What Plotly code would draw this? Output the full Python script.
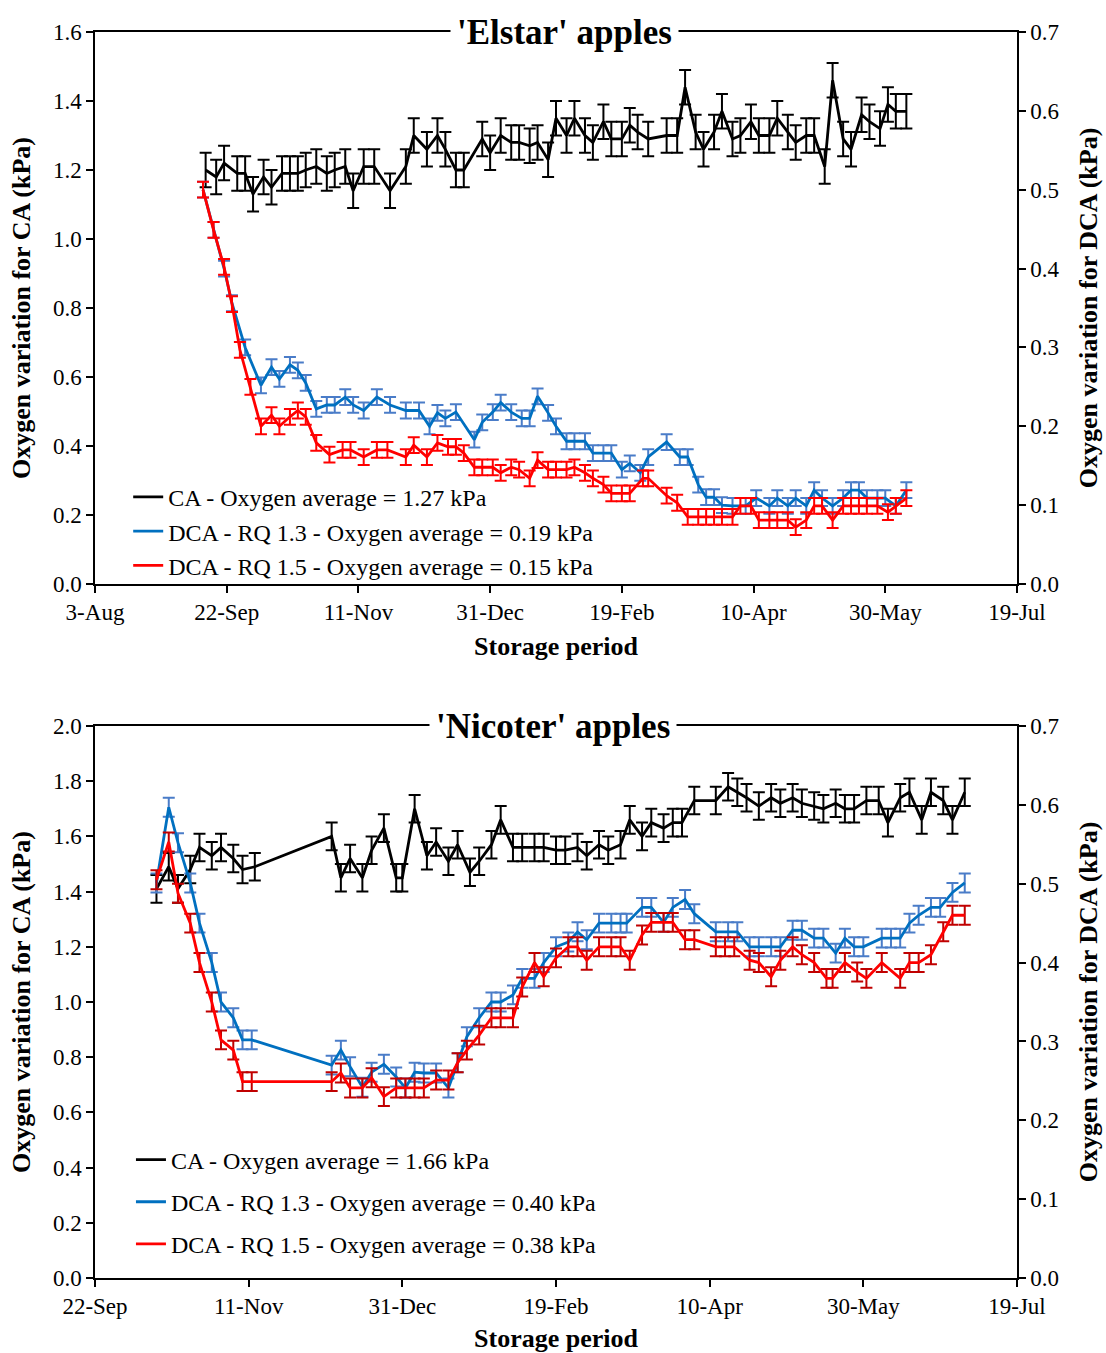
import pandas as pd
import plotly.graph_objects as go
from plotly.subplots import make_subplots

# ---------------- 'Elstar' apples (days counted from 3-Aug) ----------------
elstar_start = "2014-08-03"
elstar_ca_day = [42, 46, 49, 54, 57, 60, 64, 67, 71, 74,
                 77, 80, 84, 88, 91, 95, 98, 102, 106, 112,
                 118, 121, 126, 130, 133, 137, 140, 147, 150, 154,
                 158, 161, 165, 168, 172, 175, 179, 182, 186, 189,
                 193, 196, 200, 203, 206, 210, 217, 221, 224, 228,
                 231, 235, 238, 242, 245, 249, 252, 256, 259, 263,
                 266, 270, 273, 277, 280, 284, 287, 291, 294, 298,
                 301, 304, 308]
elstar_ca = [1.20, 1.18, 1.22, 1.19, 1.19, 1.13, 1.18, 1.15, 1.19, 1.19,
             1.19, 1.20, 1.21, 1.19, 1.20, 1.21, 1.14, 1.21, 1.21, 1.14,
             1.21, 1.30, 1.26, 1.30, 1.26, 1.20, 1.20, 1.29, 1.25, 1.30,
             1.28, 1.28, 1.27, 1.28, 1.23, 1.35, 1.30, 1.35, 1.30, 1.28,
             1.34, 1.29, 1.29, 1.33, 1.31, 1.29, 1.30, 1.30, 1.44, 1.31,
             1.26, 1.31, 1.37, 1.29, 1.30, 1.34, 1.30, 1.30, 1.35, 1.31,
             1.28, 1.30, 1.30, 1.21, 1.46, 1.29, 1.26, 1.36, 1.34, 1.32,
             1.39, 1.37, 1.37]
elstar_ca_err = 0.05

elstar_rq13_day = [41, 45, 49, 52, 57, 63, 67, 70, 74, 77,
                   80, 84, 88, 91, 95, 98, 102, 107, 112, 118,
                   123, 127, 130, 133, 137, 144, 147, 151, 154, 158,
                   162, 165, 168, 172, 175, 179, 182, 186, 189, 193,
                   196, 200, 203, 207, 210, 217, 222, 225, 229, 232,
                   235, 238, 242, 247, 251, 256, 259, 263, 266, 270,
                   273, 276, 280, 284, 287, 290, 293, 297, 300, 304, 308]
elstar_rq13 = [0.50, 0.449, 0.40, 0.356, 0.30, 0.252, 0.275, 0.26, 0.278, 0.271,
               0.255, 0.222, 0.227, 0.227, 0.237, 0.227, 0.22, 0.237, 0.227, 0.22,
               0.22, 0.20, 0.217, 0.21, 0.218, 0.183, 0.205, 0.218, 0.23, 0.218,
               0.21, 0.21, 0.238, 0.217, 0.20, 0.181, 0.181, 0.181, 0.166, 0.166,
               0.166, 0.145, 0.153, 0.141, 0.161, 0.18, 0.161, 0.161, 0.126, 0.11,
               0.11, 0.10, 0.099, 0.099, 0.109, 0.099, 0.109, 0.099, 0.109, 0.099,
               0.119, 0.109, 0.099, 0.109, 0.119, 0.119, 0.109, 0.109, 0.109, 0.099, 0.119]
elstar_rq13_err = 0.01

elstar_rq15_day = [41, 45, 49, 52, 55, 59, 63, 67, 70, 74,
                   77, 80, 84, 89, 94, 97, 102, 107, 111, 118,
                   121, 126, 130, 134, 137, 140, 144, 147, 151, 154,
                   158, 161, 165, 168, 172, 175, 179, 182, 186, 189,
                   193, 196, 200, 203, 208, 210, 217, 221, 225, 229,
                   232, 235, 238, 242, 245, 249, 252, 256, 259, 263,
                   266, 270, 273, 276, 280, 284, 287, 290, 293, 297,
                   301, 304, 308]
elstar_rq15 = [0.50, 0.449, 0.402, 0.355, 0.297, 0.25, 0.20, 0.214, 0.20, 0.212,
               0.22, 0.212, 0.179, 0.164, 0.170, 0.170, 0.161, 0.170, 0.170, 0.161,
               0.176, 0.161, 0.179, 0.174, 0.174, 0.166, 0.148, 0.148, 0.148, 0.141,
               0.148, 0.145, 0.134, 0.157, 0.145, 0.145, 0.145, 0.148, 0.141, 0.134,
               0.126, 0.115, 0.115, 0.115, 0.134, 0.134, 0.112, 0.103, 0.085, 0.085,
               0.085, 0.085, 0.085, 0.085, 0.099, 0.099, 0.081, 0.081, 0.081, 0.081,
               0.072, 0.081, 0.099, 0.099, 0.081, 0.099, 0.099, 0.099, 0.099, 0.099,
               0.091, 0.099, 0.109]
elstar_rq15_err = 0.01

# ---------------- 'Nicoter' apples (days counted from 22-Sep) ----------------
nicoter_start = "2014-09-22"
nicoter_ca_day = [20, 24, 27, 31, 34, 38, 41, 45, 48, 52,
                  77, 80, 83, 87, 90, 94, 98, 100, 104, 108,
                  111, 115, 118, 122, 125, 129, 132, 136, 139, 143,
                  146, 150, 153, 157, 160, 164, 167, 171, 174, 178,
                  181, 185, 188, 191, 195, 202, 206, 209, 212, 216,
                  220, 223, 227, 230, 234, 237, 241, 244, 247, 251,
                  255, 258, 262, 265, 269, 272, 276, 279, 283]
nicoter_ca = [1.41, 1.49, 1.41, 1.48, 1.56, 1.53, 1.56, 1.52, 1.48, 1.49,
              1.60, 1.45, 1.52, 1.45, 1.55, 1.63, 1.45, 1.45, 1.70, 1.53,
              1.58, 1.51, 1.57, 1.47, 1.51, 1.57, 1.66, 1.56, 1.56, 1.56,
              1.56, 1.55, 1.55, 1.56, 1.53, 1.57, 1.55, 1.57, 1.66, 1.60,
              1.65, 1.63, 1.65, 1.65, 1.73, 1.73, 1.78, 1.76, 1.74, 1.71,
              1.74, 1.72, 1.74, 1.72, 1.71, 1.70, 1.72, 1.70, 1.70, 1.73,
              1.73, 1.65, 1.74, 1.76, 1.66, 1.76, 1.73, 1.66, 1.76]
nicoter_ca_err = 0.05

nicoter_rq13_day = [20, 24, 27, 31, 34, 38, 41, 45, 48, 51,
                    77, 80, 83, 87, 90, 94, 98, 101, 104, 107,
                    111, 115, 118, 121, 125, 129, 132, 136, 139, 143,
                    146, 150, 154, 157, 160, 164, 168, 171, 173, 178,
                    181, 185, 188, 192, 195, 202, 206, 209, 213, 216,
                    220, 223, 227, 230, 234, 237, 241, 244, 247, 250,
                    256, 259, 262, 265, 268, 272, 275, 279, 283]
nicoter_rq13 = [0.501, 0.597, 0.552, 0.501, 0.45, 0.40, 0.35, 0.33, 0.302, 0.302,
                0.27, 0.289, 0.268, 0.242, 0.261, 0.271, 0.255, 0.241, 0.261, 0.26,
                0.26, 0.241, 0.273, 0.306, 0.33, 0.35, 0.35, 0.359, 0.38, 0.38,
                0.40, 0.42, 0.426, 0.439, 0.429, 0.45, 0.45, 0.45, 0.45, 0.47,
                0.47, 0.451, 0.47, 0.48, 0.462, 0.439, 0.439, 0.439, 0.42, 0.42,
                0.42, 0.42, 0.441, 0.441, 0.431, 0.431, 0.412, 0.431, 0.42, 0.42,
                0.431, 0.431, 0.431, 0.45, 0.46, 0.47, 0.47, 0.489, 0.501]
nicoter_rq13_err = 0.012

nicoter_rq15_day = [20, 24, 27, 31, 34, 38, 41, 45, 48, 51,
                    77, 80, 83, 87, 90, 94, 98, 101, 104, 107,
                    111, 115, 118, 121, 125, 129, 132, 136, 139, 143,
                    146, 150, 154, 157, 160, 164, 168, 171, 174, 178,
                    181, 185, 188, 192, 195, 202, 205, 208, 213, 216,
                    220, 223, 227, 230, 234, 238, 240, 244, 248, 251,
                    256, 262, 265, 268, 272, 276, 279, 283]
nicoter_rq15 = [0.505, 0.553, 0.488, 0.45, 0.40, 0.35, 0.302, 0.289, 0.249, 0.249,
                0.249, 0.26, 0.241, 0.241, 0.254, 0.23, 0.241, 0.241, 0.241, 0.241,
                0.251, 0.251, 0.273, 0.289, 0.308, 0.33, 0.33, 0.33, 0.369, 0.40,
                0.382, 0.406, 0.42, 0.42, 0.403, 0.42, 0.42, 0.42, 0.403, 0.435,
                0.451, 0.451, 0.451, 0.429, 0.429, 0.42, 0.42, 0.42, 0.403, 0.40,
                0.382, 0.403, 0.42, 0.41, 0.40, 0.38, 0.38, 0.40, 0.388, 0.38,
                0.40, 0.38, 0.40, 0.40, 0.41, 0.439, 0.46, 0.46]
nicoter_rq15_err = 0.012

legend_labels_elstar = ["CA - Oxygen average = 1.27 kPa",
                        "DCA - RQ 1.3 - Oxygen average = 0.19 kPa",
                        "DCA - RQ 1.5 - Oxygen average = 0.15 kPa"]
legend_labels_nicoter = ["CA - Oxygen average = 1.66 kPa",
                         "DCA - RQ 1.3 - Oxygen average = 0.40 kPa",
                         "DCA - RQ 1.5 - Oxygen average = 0.38 kPa"]
titles = ["<b>'Elstar' apples</b>", "<b>'Nicoter' apples</b>"]


def to_dates(start, days):
    return (pd.Timestamp(start) + pd.to_timedelta(days, unit="D")).strftime("%Y-%m-%d").tolist()


FONT = "Liberation Serif, Times New Roman, serif"
BLACK = "#000000"
BLUE = "#0070C0"
BLUE_ERR = "#4A7CC8"
RED = "#FF0000"

fig = make_subplots(rows=2, cols=1, vertical_spacing=0.114,
                    specs=[[{"secondary_y": True}], [{"secondary_y": True}]])


def add_series(row, start, day, vals, err, name, color, errcolor, secondary, legend, group):
    fig.add_trace(go.Scatter(
        x=to_dates(start, day), y=vals, mode="lines", name=name,
        line=dict(color=color, width=2.8),
        error_y=dict(type="constant", value=err, color=errcolor, thickness=2, width=6),
        legend=legend, legendgroup=group,
    ), row=row, col=1, secondary_y=secondary)


add_series(1, elstar_start, elstar_ca_day, elstar_ca, elstar_ca_err, legend_labels_elstar[0],
           BLACK, BLACK, False, "legend", "a")
add_series(1, elstar_start, elstar_rq13_day, elstar_rq13, elstar_rq13_err, legend_labels_elstar[1],
           BLUE, BLUE_ERR, True, "legend", "b")
add_series(1, elstar_start, elstar_rq15_day, elstar_rq15, elstar_rq15_err, legend_labels_elstar[2],
           RED, RED, True, "legend", "c")

add_series(2, nicoter_start, nicoter_ca_day, nicoter_ca, nicoter_ca_err, legend_labels_nicoter[0],
           BLACK, BLACK, False, "legend2", "d")
add_series(2, nicoter_start, nicoter_rq13_day, nicoter_rq13, nicoter_rq13_err, legend_labels_nicoter[1],
           BLUE, BLUE_ERR, True, "legend2", "e")
add_series(2, nicoter_start, nicoter_rq15_day, nicoter_rq15, nicoter_rq15_err, legend_labels_nicoter[2],
           RED, "#C00000", True, "legend2", "f")

tickfont = dict(family=FONT, size=23, color="black")
titlefont = dict(family=FONT, size=26, color="black")
DAY_MS = 86400000

xcommon = dict(type="date", dtick=50 * DAY_MS, tickformat="%-d-%b", showline=True, linecolor="black",
               linewidth=1.5, mirror=True, ticks="outside", ticklen=7, tickwidth=1.5, tickcolor="black",
               showgrid=False, zeroline=False, tickfont=tickfont, automargin=False, domain=[0, 1],
               title=dict(text="<b>Storage period</b>", font=titlefont, standoff=12))
fig.update_xaxes(range=["2014-08-03", "2015-07-19"], tick0="2014-08-03", row=1, col=1, **xcommon)
fig.update_xaxes(range=["2014-09-22", "2015-07-19"], tick0="2014-09-22", row=2, col=1, **xcommon)

ycommon = dict(showline=True, linecolor="black", linewidth=1.5, ticks="outside", ticklen=7, tickwidth=1.5,
               tickcolor="black", showgrid=False, zeroline=False, tickfont=tickfont, tickformat=".1f",
               automargin=False)
fig.update_yaxes(range=[0, 1.6], dtick=0.2, row=1, col=1, secondary_y=False,
                 title=dict(text="<b>Oxygen variation for CA (kPa)</b>", font=titlefont, standoff=15), **ycommon)
fig.update_yaxes(range=[0, 0.7], dtick=0.1, row=1, col=1, secondary_y=True,
                 title=dict(text="<b>Oxygen variation for DCA (kPa)</b>", font=titlefont, standoff=20), **ycommon)
fig.update_yaxes(range=[0, 2.0], dtick=0.2, row=2, col=1, secondary_y=False,
                 title=dict(text="<b>Oxygen variation for CA (kPa)</b>", font=titlefont, standoff=15), **ycommon)
fig.update_yaxes(range=[0, 0.7], dtick=0.1, row=2, col=1, secondary_y=True,
                 title=dict(text="<b>Oxygen variation for DCA (kPa)</b>", font=titlefont, standoff=20), **ycommon)

legend_common = dict(font=dict(family=FONT, size=24, color="black"), bgcolor="rgba(0,0,0,0)",
                     xanchor="left", yanchor="top", traceorder="grouped")
fig.update_layout(
    width=1106, height=1353, margin=dict(l=95, r=89, t=32, b=75),
    paper_bgcolor="white", plot_bgcolor="white",
    font=dict(family=FONT, color="black"),
    legend=dict(x=0.036, y=0.6446, tracegroupgap=0, **legend_common),
    legend2=dict(x=0.039, y=0.1128, tracegroupgap=8, **legend_common),
)

fig.add_annotation(text=titles[0], xref="paper", yref="paper", x=0.509, y=1.0, yanchor="middle",
                   showarrow=False, bgcolor="white", borderpad=6,
                   font=dict(family=FONT, size=35, color="black"))
fig.add_annotation(text=titles[1], xref="paper", yref="paper", x=0.497, y=0.443, yanchor="middle",
                   showarrow=False, bgcolor="white", borderpad=6,
                   font=dict(family=FONT, size=35, color="black"))

fig.write_html("out.html")
